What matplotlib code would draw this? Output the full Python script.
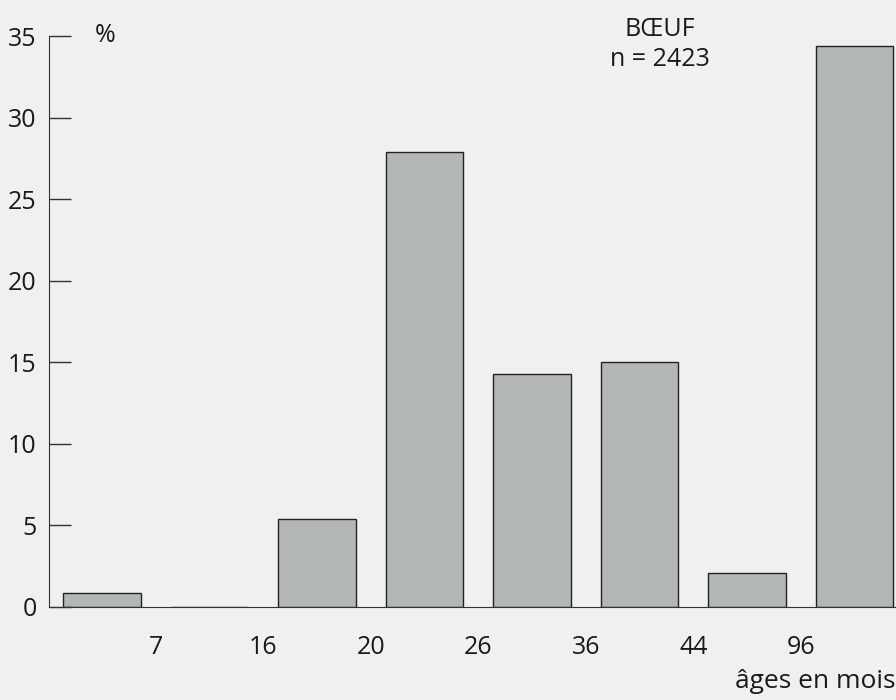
import matplotlib
matplotlib.use("Agg")
import matplotlib.pyplot as plt
import numpy as np

plt.rcParams['font.family'] = ['Open Sans', 'DejaVu Sans']

# age classes (months) and share of the sample in %
class_limits = ['7', '16', '20', '26', '36', '44', '96']
percent = [0.85, 0.0, 5.4, 27.9, 14.3, 15.0, 2.1, 34.4]
y_ticks = [0, 5, 10, 15, 20, 25, 30, 35]

fig = plt.figure(figsize=(8.96, 7), dpi=100)
fig.patch.set_facecolor('#f0f0ee')
ax = fig.add_axes([49 / 896, 1 - 607 / 700, 1 - 49 / 896, (607 - 36) / 700])
ax.set_facecolor('#f0f0ee')

x_pos = np.arange(len(percent))
ax.bar(x_pos, percent, width=0.725, color='#b3b8b5', edgecolor='#222222', linewidth=1.0)

ax.set_xlim(-0.493, 7.386)
ax.set_ylim(0, 35)
ax.set_yticks(y_ticks)
ax.set_xticks(x_pos[:-1] + 0.5)
ax.set_xticklabels(class_limits)

for s in ['top', 'right']:
    ax.spines[s].set_visible(False)
ax.spines['left'].set_color('#333333')
ax.spines['bottom'].set_color('#333333')

ax.tick_params(axis='y', direction='in', length=16, width=1, color='#333333',
               pad=9, labelsize=18, labelcolor='#1a1a1a')
ax.tick_params(axis='x', length=0, pad=20, labelsize=18, labelcolor='#1a1a1a')

fig.text(105 / 896, 1 - 35 / 700, '%', fontsize=18, ha='center', va='center', color='#1a1a1a')
fig.text(660 / 896, 1 - 30 / 700, 'BŒUF', fontsize=18, ha='center', va='center', color='#1a1a1a')
fig.text(660 / 896, 1 - 60 / 700, 'n = 2423', fontsize=18, ha='center', va='center', color='#1a1a1a')
fig.text(895 / 896, 1 - 681 / 700, 'âges en mois', fontsize=19, ha='right', va='center', color='#1a1a1a')

plt.savefig('out.png', dpi=100, facecolor=fig.get_facecolor())
